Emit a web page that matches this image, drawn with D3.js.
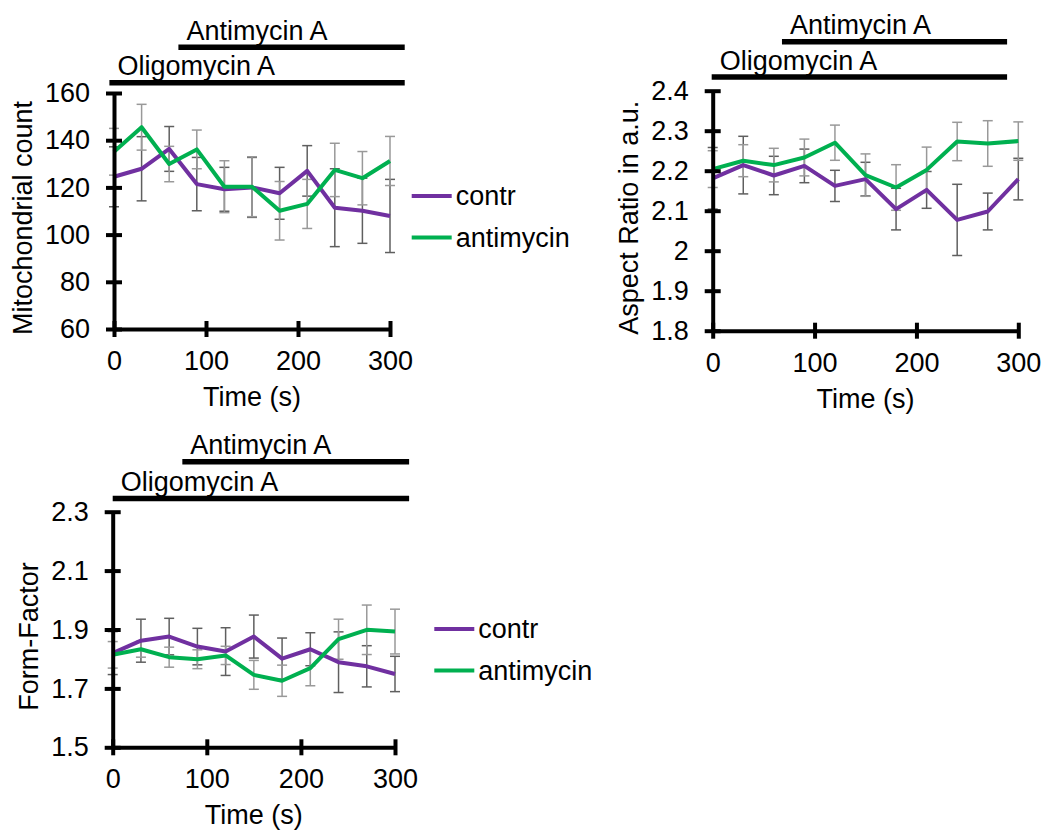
<!DOCTYPE html>
<html>
<head>
<meta charset="utf-8">
<script src="https://cdn.jsdelivr.net/npm/d3@7"></script>
<style>
  body { margin: 0; background: #fff; }
  svg text { font-family: "Liberation Sans", Arial, sans-serif; fill: #000; }
</style>
</head>
<body>
<svg id="chart" width="1042" height="830"></svg>
<script>
// ── Data ───────────────────────────────────────────────────────────────────
const TIME = [0, 30, 60, 90, 120, 150, 180, 210, 240, 270, 300];
const TIME_TICKS = [0, 100, 200, 300];

const COUNT_CONTR     = [124.5, 127.9, 136.3, 121.4, 119.2, 120.0, 117.5, 127.0, 111.4, 110.1, 107.9];
const COUNT_CONTR_SD  = [12.7, 13.6, 9.5, 11.3, 9.3, 12.7, 11.0, 10.7, 16.5, 13.8, 15.5];
const COUNT_ANTI      = [135.1, 145.5, 129.9, 136.1, 120.3, 120.3, 110.1, 113.0, 127.4, 123.9, 131.2];
const COUNT_ANTI_SD   = [9.9, 9.7, 7.5, 8.2, 11.0, 12.7, 12.4, 10.4, 11.3, 11.3, 10.4];
const COUNT_TICKS     = [60, 80, 100, 120, 140, 160];

const ASPECT_CONTR    = [2.181, 2.214, 2.188, 2.212, 2.162, 2.179, 2.104, 2.152, 2.077, 2.098, 2.179];
const ASPECT_CONTR_SD = [0.077, 0.072, 0.048, 0.042, 0.039, 0.042, 0.052, 0.046, 0.089, 0.046, 0.052];
const ASPECT_ANTI     = [2.204, 2.225, 2.214, 2.233, 2.270, 2.189, 2.158, 2.202, 2.273, 2.268, 2.274];
const ASPECT_ANTI_SD  = [0.046, 0.040, 0.042, 0.046, 0.044, 0.053, 0.057, 0.057, 0.048, 0.057, 0.048];
const ASPECT_TICKS    = [1.8, 1.9, 2.0, 2.1, 2.2, 2.3, 2.4];

const FF_CONTR        = [1.820, 1.862, 1.876, 1.842, 1.825, 1.876, 1.801, 1.833, 1.789, 1.775, 1.749];
const FF_CONTR_SD     = [0.073, 0.073, 0.062, 0.062, 0.081, 0.073, 0.070, 0.056, 0.103, 0.070, 0.060];
const FF_ANTI         = [1.814, 1.833, 1.806, 1.799, 1.812, 1.746, 1.726, 1.769, 1.867, 1.899, 1.893];
const FF_ANTI_SD      = [0.045, 0.027, 0.034, 0.032, 0.031, 0.049, 0.053, 0.060, 0.068, 0.084, 0.076];
const FF_TICKS        = [1.5, 1.7, 1.9, 2.1, 2.3];

const SERIES_NAMES = ["contr", "antimycin"];
const DRUG_NAMES   = ["Oligomycin A", "Antimycin A"];
// treatment spans in seconds, as drawn above each panel
const COUNT_DRUG_SPANS  = [[-5, 316], [70, 316]];
const ASPECT_DRUG_SPANS = [[-1, 289], [68, 289]];
const FF_DRUG_SPANS     = [[0, 315], [74, 315]];

// ── Styles / layout ────────────────────────────────────────────────────────
const COLORS    = { contr: "#7030A0", antimycin: "#00B050" };
const ERR_COLOR = { contr: "#5f5f5f", antimycin: "#999999" };
const FONT = 27;

const panels = [
    { left: 114, right: 390, top: 93, bottom: 329,
      title: "Mitochondrial count", titleDx: -82,
      ticks: COUNT_TICKS, fmt: d3.format("d"),
      series: [[COUNT_CONTR, COUNT_CONTR_SD], [COUNT_ANTI, COUNT_ANTI_SD]],
      spans: COUNT_DRUG_SPANS, barDy: [-10.2, -45.8],
      legend: { dx: 21.7, y: 196 } },
    { left: 712.7, right: 1018.3, top: 90.7, bottom: 330.7,
      title: "Aspect Ratio in a.u.", titleDx: -75,
      ticks: ASPECT_TICKS, fmt: d => d3.format("~g")(d),
      series: [[ASPECT_CONTR, ASPECT_CONTR_SD], [ASPECT_ANTI, ASPECT_ANTI_SD]],
      spans: ASPECT_DRUG_SPANS, barDy: [-13.7, -48.9],
      legend: null },
    { left: 112.7, right: 395, top: 511.7, bottom: 747.3,
      title: "Form-Factor", titleDx: -75,
      ticks: FF_TICKS, fmt: d => d3.format("~g")(d),
      series: [[FF_CONTR, FF_CONTR_SD], [FF_ANTI, FF_ANTI_SD]],
      spans: FF_DRUG_SPANS, barDy: [-13.2, -49.9],
      legend: { dx: 39.3, y: 629 } },
];

const svg = d3.select("#chart");
svg.append("rect").attr("width", 1042).attr("height", 830).attr("fill", "#fff");

panels.forEach(p => {
    const x = d3.scaleLinear().domain([0, 300]).range([p.left, p.right]);
    const y = d3.scaleLinear().domain(d3.extent(p.ticks)).range([p.bottom, p.top]);
    const g = svg.append("g");

    // error bars first, lines on top
    p.series.forEach(([vals, sds], si) => {
        const name = SERIES_NAMES[si];
        const eb = g.append("g").attr("stroke", ERR_COLOR[name]).attr("stroke-width", 1.5);
        TIME.forEach((t, i) => {
            const cx = x(t), y1 = y(vals[i] + sds[i]), y2 = y(vals[i] - sds[i]);
            eb.append("line").attr("x1", cx).attr("x2", cx).attr("y1", y1).attr("y2", y2);
            eb.append("line").attr("x1", cx - 5).attr("x2", cx + 5).attr("y1", y1).attr("y2", y1);
            eb.append("line").attr("x1", cx - 5).attr("x2", cx + 5).attr("y1", y2).attr("y2", y2);
        });
    });

    const line = d3.line().x((d, i) => x(TIME[i])).y(d => y(d));
    p.series.forEach(([vals], si) => {
        g.append("path").datum(vals)
            .attr("fill", "none")
            .attr("stroke", COLORS[SERIES_NAMES[si]])
            .attr("stroke-width", 4)
            .attr("stroke-linejoin", "round")
            .attr("d", line);
    });

    // Axes
    const yAxis = g.append("g").attr("transform", `translate(${p.left},0)`)
        .call(d3.axisLeft(y).tickValues(p.ticks).tickFormat(p.fmt)
            .tickSize(8).tickSizeOuter(0).tickPadding(16));
    const xAxis = g.append("g").attr("transform", `translate(0,${p.bottom})`)
        .call(d3.axisBottom(x).tickValues(TIME_TICKS).tickFormat(d3.format("d"))
            .tickSize(8).tickSizeOuter(0).tickPadding(14));
    [yAxis, xAxis].forEach(ax => {
        ax.attr("font-family", null).attr("font-size", FONT);
        ax.select(".domain").attr("stroke", "#000").attr("stroke-width", 4);
        ax.selectAll(".tick line").attr("stroke", "#000").attr("stroke-width", 4);
        ax.selectAll(".tick text").attr("fill", "#000");
    });
    yAxis.selectAll(".tick line").attr("x1", 8).attr("x2", -8);
    xAxis.selectAll(".tick line").attr("y1", -8).attr("y2", 8);

    // Axis titles
    g.append("text")
        .attr("transform", `translate(${p.left + p.titleDx},${(p.top + p.bottom) / 2 + 7}) rotate(-90)`)
        .attr("text-anchor", "middle").attr("font-size", FONT)
        .text(p.title);
    g.append("text")
        .attr("x", (p.left + p.right) / 2).attr("y", p.bottom + 77)
        .attr("text-anchor", "middle").attr("font-size", FONT)
        .text("Time (s)");

    // Treatment bars
    p.spans.forEach((span, di) => {
        const by = p.top + p.barDy[di];
        g.append("line")
            .attr("x1", x(span[0])).attr("x2", x(span[1]))
            .attr("y1", by).attr("y2", by)
            .attr("stroke", "#000").attr("stroke-width", 5.5);
        g.append("text")
            .attr("x", x(span[0]) + 8).attr("y", by - 7.5)
            .attr("font-size", FONT)
            .text(DRUG_NAMES[di]);
    });

    // Legend
    if (p.legend) {
        SERIES_NAMES.forEach((name, si) => {
            const ly = p.legend.y + si * 41.5;
            const lx = p.right + p.legend.dx;
            g.append("line")
                .attr("x1", lx).attr("x2", lx + 40).attr("y1", ly).attr("y2", ly)
                .attr("stroke", COLORS[name]).attr("stroke-width", 4);
            g.append("text")
                .attr("x", lx + 44).attr("y", ly + 9)
                .attr("font-size", FONT)
                .text(name);
        });
    }
});
</script>
</body>
</html>
